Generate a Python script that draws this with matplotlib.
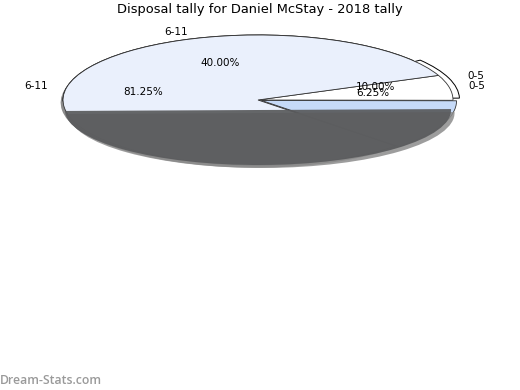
import matplotlib.pyplot as plt
from matplotlib.transforms import Affine2D

# two overlapping tallies, as drawn in the reference
labels = ["0-5", "6-11", ""]
tally_a = [6.25, 81.25, 12.5]
tally_b = [10.0, 40.0, 50.0]

face = "#EAF0FC"
dark = "#5a5b5d"

fig = plt.figure(figsize=(5.2, 3.9), dpi=100)
ax = fig.add_axes([48 / 520, (390 - 180) / 390, 420 / 520, 160 / 390])

# dropped shadow behind the disc
shadow, _ = ax.pie(tally_a, colors=["#8c8c8c"] * 3, radius=1.0, center=(-0.012, -0.04),
                   startangle=-0.25, wedgeprops=dict(linewidth=0))
for w in shadow:
    w.set_zorder(0)

# second tally (behind)
wb, tb, ab = ax.pie(tally_b, labels=labels, colors=["white", face, dark],
                    startangle=1, explode=[0.035, 0, 0],
                    autopct=lambda p: f"{p:.2f}%", pctdistance=0.6, labeldistance=1.1,
                    wedgeprops=dict(edgecolor="black", linewidth=0.7),
                    textprops=dict(fontsize=7.5))
for w in wb:
    w.set_zorder(1)

# first tally (on top)
wa, ta, aa = ax.pie(tally_a, labels=labels, colors=["white", face, "#C6DAF8"],
                    startangle=-0.25, explode=[0, 0, 0.02],
                    autopct=lambda p: f"{p:.2f}%", pctdistance=0.6, labeldistance=1.1,
                    wedgeprops=dict(edgecolor="#333333", linewidth=0.6),
                    textprops=dict(fontsize=7.5))
for w in wa:
    w.set_zorder(2)

ab[2].set_visible(False)
aa[2].set_visible(False)

# the lower slice of the second tally sits lower and flatter, over the rest
depth = Affine2D().scale(0.99, 55 / 65).translate(0, -10 / 65) + ax.transData
side_shadow = Affine2D().scale(0.99, 55 / 65).translate(0.018, -13 / 65) + ax.transData
ws, _ = ax.pie(tally_b, colors=["none", "none", "#8c8c8c"], startangle=1,
               wedgeprops=dict(linewidth=0))
ws[2].set_transform(side_shadow)
ws[2].set_zorder(2.5)
ws[2].set_alpha(0.85)
wb[2].set_transform(depth)
wb[2].set_zorder(3)
wb[2].set_alpha(0.93)
wb[2].set_edgecolor("none")

for t in list(tb) + list(ta) + list(ab) + list(aa):
    t.set_zorder(6)

ax.set_aspect("auto")
ax.set_xlim(-210 / 195, 210 / 195)
ax.set_ylim(-80 / 65, 80 / 65)
ax.axis("off")

fig.text(0.5, 1 - 10 / 390, "Disposal tally for Daniel McStay - 2018 tally",
         ha="center", va="center", fontsize=9.4)
fig.text(0.0, 9 / 390, "Dream-Stats.com", ha="left", va="center",
         fontsize=8.8, color="#9a9a9a", family="Open Sans", fontweight="semibold")

fig.savefig("out.png", dpi=100)
